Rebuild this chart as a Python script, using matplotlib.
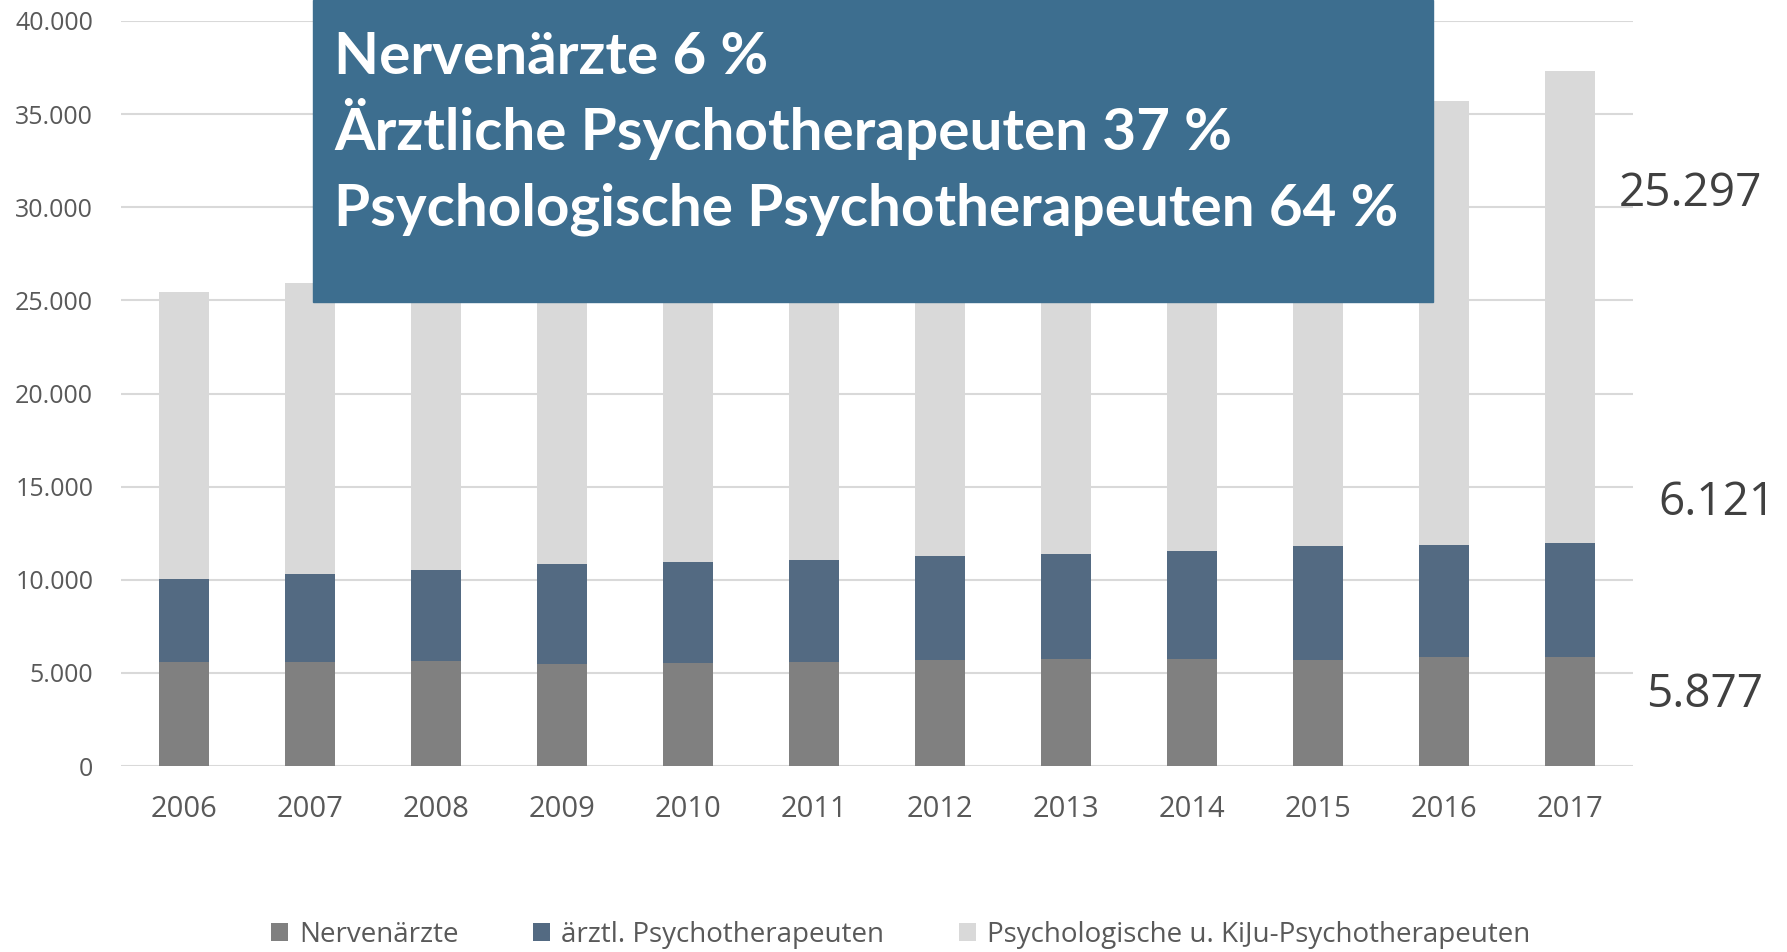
import matplotlib
matplotlib.use("Agg")
import matplotlib.pyplot as plt
from matplotlib.ticker import FuncFormatter
from matplotlib.patches import Rectangle
import numpy as np

years = ["2006", "2007", "2008", "2009", "2010", "2011",
         "2012", "2013", "2014", "2015", "2016", "2017"]
nervenaerzte = [5590, 5590, 5660, 5500, 5555, 5590, 5715, 5770, 5770, 5715, 5860, 5877]
aerztl_pt = [4446, 4696, 4857, 5323, 5411, 5465, 5536, 5607, 5786, 6073, 6018, 6121]
psych_pt = [15431, 15664, 16200, 16900, 17500, 18200, 19000, 19900, 20800, 21900, 23820, 25297]

box_lines = ["Nervenärzte 6 %",
             "Ärztliche Psychotherapeuten 37 %",
             "Psychologische Psychotherapeuten 64 %"]
labels = ["Nervenärzte", "ärztl. Psychotherapeuten",
          "Psychologische u. KiJu-Psychotherapeuten"]
colors = ["#808080", "#536A82", "#D9D9D9"]

W, H = 1787, 952
plt.rcParams['font.family'] = ['Open Sans', 'DejaVu Sans']

def de(v):
    return f"{v:,.0f}".replace(",", ".")

fig = plt.figure(figsize=(W / 100, H / 100), dpi=100)
ax = fig.add_axes([121 / W, 1 - 766 / H, (1633 - 121) / W, (766 - 21) / H])

x = np.arange(len(years))
b1 = np.array(nervenaerzte)
b2 = b1 + np.array(aerztl_pt)
ax.bar(x, nervenaerzte, 0.4, color=colors[0], label=labels[0])
ax.bar(x, aerztl_pt, 0.4, bottom=b1, color=colors[1], label=labels[1])
ax.bar(x, psych_pt, 0.4, bottom=b2, color=colors[2], label=labels[2])

ax.set_xlim(-0.5, len(years) - 0.5)
ax.set_ylim(0, 40000)
ax.set_yticks(range(0, 40001, 5000))
ax.yaxis.set_major_formatter(FuncFormatter(lambda v, p: de(v)))
ax.set_xticks(x)
ax.set_xticklabels(years)
ax.tick_params(length=0, labelcolor="#595959")
ax.tick_params(axis="y", pad=20, labelsize=18)
ax.tick_params(axis="x", pad=21, labelsize=21)
ax.grid(axis="y", color="#D9D9D9", linewidth=1.5)
ax.set_axisbelow(True)
for s in ax.spines.values():
    s.set_visible(False)

# werte 2017 rechts
fig.text(1690 / W, 1 - 194 / H, de(psych_pt[-1]), fontsize=33, color="#404040",
         ha="center", va="center")
fig.text(1717 / W, 1 - 503 / H, de(aerztl_pt[-1]), fontsize=33, color="#404040",
         ha="center", va="center")
fig.text(1705 / W, 1 - 695 / H, de(nervenaerzte[-1]), fontsize=33, color="#404040",
         ha="center", va="center")

# kasten oben
fig.patches.append(Rectangle((313 / W, 1 - 302 / H), (1433 - 313) / W, 302 / H,
                             transform=fig.transFigure, color="#3D6E8F", zorder=5))
for i, line in enumerate(box_lines):
    fig.text(334 / W, 1 - (74 + 76 * i) / H, line, fontsize=42, fontweight="bold",
             family=["Lato", "DejaVu Sans"], color="white", ha="left",
             va="baseline", zorder=6)

fig.legend(loc="center", bbox_to_anchor=(0.504, 1 - 935 / H), ncol=3,
           frameon=False, fontsize=20, handlelength=0.6, handleheight=0.6,
           handletextpad=0.4, columnspacing=2.7, labelcolor="#595959")

fig.savefig("out.png", dpi=100)
